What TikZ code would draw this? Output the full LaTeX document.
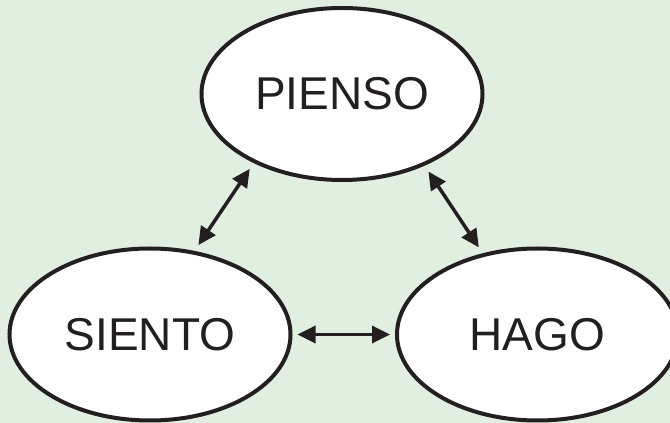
\documentclass[tikz,border=0pt]{standalone}
\usepackage{fontspec}
\setmainfont{Liberation Sans}
\usetikzlibrary{shapes, arrows.meta, positioning}
\definecolor{bggreen}{RGB}{225,239,224}
\definecolor{inkblack}{RGB}{35,31,32}

\begin{document}
\begin{tikzpicture}[<->,>={Triangle[length=18pt,width=17pt]},x=1pt,y=1pt,line width=3.5pt,inkblack]
	\tikzset{idea/.style={ellipse, draw, fill=white, line width=4pt, inner sep=0pt, minimum width=281pt, minimum height=172pt, font=\fontsize{46}{52}\selectfont}}
	\fill[bggreen, -] (0,0) rectangle (670,423);
	\useasboundingbox (0,0) rectangle (670,423);
	\node[idea] (pienso) at (342,329) {PIENSO};
	\node[idea] (siento) at (150,88.5) {SIENTO};
	\node[idea] (hago) at (537.5,88.5) {HAGO};
	\path[shorten >=7pt, shorten <=7pt]
		(pienso.218)

			edge (siento.62)
		(pienso.319)

			edge (hago.124);
	\path[shorten >=5pt, shorten <=5pt]
		(siento.east)

			edge (hago.west);
\end{tikzpicture}
\end{document}
